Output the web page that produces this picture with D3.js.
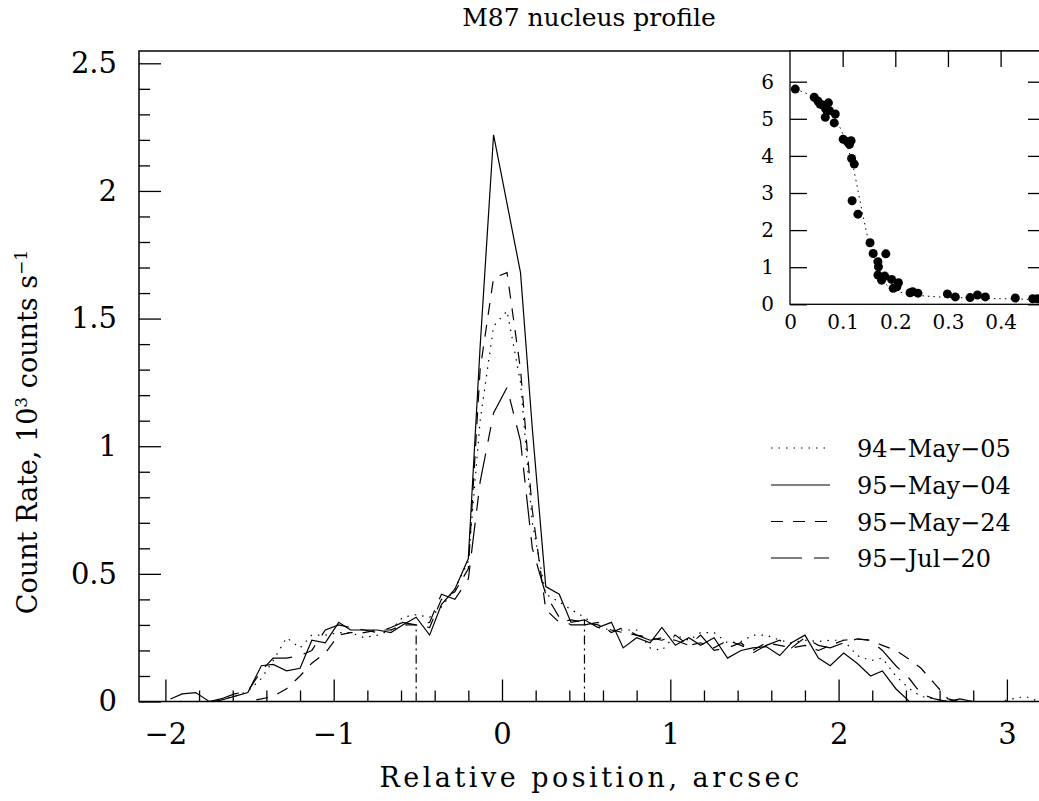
<!DOCTYPE html>
<html>
<head>
<meta charset="utf-8">
<script src="https://cdn.jsdelivr.net/npm/d3@7"></script>
<style>
body { margin: 0; background: #fff; }
svg { display: block; font-family: "DejaVu Serif", serif; }
</style>
</head>
<body>
<svg id="chart"></svg>
<script>
// sample positions along the slit (arcsec)
const positions = [
    -2.05, -1.97, -1.90, -1.82, -1.74, -1.67, -1.59, -1.51, -1.43, -1.36,
    -1.28, -1.20, -1.13, -1.05, -0.97, -0.90, -0.82, -0.74, -0.66, -0.59,
    -0.51, -0.43, -0.36, -0.28, -0.20, -0.13, -0.05, 0.03, 0.11, 0.18,
    0.26, 0.34, 0.41, 0.49, 0.57, 0.65, 0.72, 0.80, 0.88, 0.95,
    1.03, 1.11, 1.18, 1.26, 1.34, 1.42, 1.49, 1.57, 1.65, 1.72,
    1.80, 1.88, 1.95, 2.03, 2.11, 2.19, 2.26, 2.34, 2.42, 2.49,
    2.57, 2.65, 2.72, 2.80, 2.88, 2.96, 3.03, 3.11, 3.19
];

// count rates, 10^3 counts/s
const may05_94 = [
    null, null, null, null, null, 0.01, 0.02, 0.04, 0.09, 0.16,
    0.25, 0.21, 0.26, 0.26, 0.27, 0.27, 0.25, 0.26, 0.28, 0.33,
    0.34, 0.33, 0.37, 0.44, 0.55, 1.10, 1.47, 1.53, 1.25, 0.70,
    0.42, 0.39, 0.36, 0.33, 0.29, 0.28, 0.28, 0.28, 0.21, 0.20,
    0.26, 0.24, 0.27, 0.27, 0.23, 0.235, 0.26, 0.26, 0.24, 0.23,
    0.24, 0.235, 0.24, 0.24, 0.18, 0.16, 0.17, 0.10, 0.05, 0.02,
    0.01, 0.0, 0.0, 0.0, 0.0, 0.0, 0.01, 0.02, 0.0
];
const may04_95 = [
    null, 0.01, 0.03, 0.035, 0.0, 0.005, 0.02, 0.035, 0.14, 0.145,
    0.12, 0.13, 0.24, 0.23, 0.31, 0.28, 0.28, 0.28, 0.27, 0.30,
    0.33, 0.26, 0.38, 0.44, 0.56, 1.39, 2.22, 1.95, 1.68, 1.07,
    0.45, 0.42, 0.31, 0.32, 0.29, 0.31, 0.21, 0.25, 0.23, 0.29,
    0.22, 0.25, 0.22, 0.25, 0.17, 0.20, 0.21, 0.215, 0.18, 0.23,
    0.26, 0.17, 0.14, 0.19, 0.15, 0.10, 0.12, 0.05, 0.0, 0.0,
    0.0, 0.0, 0.01, 0.0, null, null, null, null, null
];
const may24_95 = [
    null, null, null, null, null, null, 0.0, 0.0, 0.01, 0.02,
    0.05, 0.10, 0.15, 0.19, 0.26, 0.27, 0.27, 0.28, 0.28, 0.30,
    0.30, 0.29, 0.40, 0.43, 0.52, 1.30, 1.66, 1.68, 1.30, 0.75,
    0.36, 0.31, 0.32, 0.31, 0.30, 0.28, 0.27, 0.26, 0.25, 0.24,
    0.26, 0.22, 0.23, 0.21, 0.24, 0.22, 0.20, 0.23, 0.22, 0.21,
    0.22, 0.20, 0.22, 0.24, 0.245, 0.24, 0.22, 0.20, 0.165, 0.13,
    0.07, 0.01, 0.0, 0.0, 0.0, null, null, null, null
];
const jul20_95 = [
    null, null, null, null, 0.0, 0.01, 0.03, 0.04, 0.12, 0.17,
    0.17, 0.18, 0.20, 0.28, 0.30, 0.29, 0.28, 0.27, 0.29, 0.31,
    0.30, 0.31, 0.42, 0.40, 0.48, 0.86, 1.13, 1.23, 1.02, 0.60,
    0.42, 0.33, 0.30, 0.30, 0.31, 0.27, 0.29, 0.26, 0.24, 0.25,
    0.24, 0.22, 0.26, 0.20, 0.21, 0.23, 0.19, 0.22, 0.24, 0.21,
    0.25, 0.22, 0.21, 0.23, 0.245, 0.24, 0.20, 0.14, 0.09, 0.03,
    0.01, 0.0, 0.0, null, null, null, null, null, null
];

const seriesLabels = ['94\u2212May\u221205', '95\u2212May\u221204', '95\u2212May\u221224', '95\u2212Jul\u221220'];

// aperture edges
const markerX = [-0.51, 0.49];
const markerTop = [0.30, 0.32];

const xTicks = [-2, -1, 0, 1, 2, 3];
const yTicks = [0, 0.5, 1, 1.5, 2, 2.5];

// inset: radial profile
const insetR = [
    0.010, 0.046, 0.053, 0.057, 0.062, 0.073, 0.068, 0.067, 0.075, 0.086,
    0.084, 0.101, 0.109, 0.116, 0.113, 0.117, 0.122, 0.118, 0.129, 0.152,
    0.158, 0.182, 0.167, 0.168, 0.167, 0.174, 0.180, 0.193, 0.196, 0.206,
    0.203, 0.228, 0.233, 0.243, 0.299, 0.314, 0.342, 0.356, 0.371, 0.428,
    0.461, 0.470
];
const insetV = [
    5.80, 5.58, 5.48, 5.40, 5.37, 5.43, 5.26, 5.04, 5.22, 5.13,
    4.89, 4.45, 4.38, 4.41, 4.31, 3.93, 3.78, 2.79, 2.43, 1.66,
    1.37, 1.36, 1.15, 1.01, 0.79, 0.65, 0.76, 0.67, 0.43, 0.58,
    0.47, 0.31, 0.34, 0.30, 0.28, 0.20, 0.18, 0.25, 0.20, 0.17,
    0.15, 0.15
];
const modelR = [0.01, 0.02, 0.04, 0.06, 0.08, 0.09, 0.10, 0.11, 0.12, 0.13, 0.14, 0.15, 0.16, 0.17, 0.18, 0.20, 0.23, 0.27, 0.32, 0.40, 0.48];
const modelV = [5.80, 5.75, 5.62, 5.42, 5.12, 4.90, 4.60, 4.20, 3.70, 3.00, 2.30, 1.65, 1.15, 0.80, 0.58, 0.38, 0.27, 0.21, 0.18, 0.15, 0.13];

const insetXTicks = [0, 0.1, 0.2, 0.3, 0.4];
const insetYTicks = [0, 1, 2, 3, 4, 5, 6];

const width = 1039, height = 801;
const frame = {left: 139, top: 51, bottom: 701.5, right: 1050};

const svg = d3.select('#chart')
    .attr('width', width)
    .attr('height', height);

const xscale = d3.scaleLinear().domain([-2, 3]).range([165.4, 1006.9]);
const yscale = d3.scaleLinear().domain([0, 2.5]).range([frame.bottom, 63.3]);

// frame
svg.append('path')
    .attr('d', `M${frame.right},${frame.top}H${frame.left}V${frame.bottom}H${frame.right}`)
    .attr('fill', 'none')
    .attr('stroke', 'black')
    .attr('stroke-width', 1.5);

// x axis, ticks pointing inwards
const xminor = d3.range(-2, 3.21, 0.2).filter(v => Math.abs(v - Math.round(v)) > 0.01);
svg.append('g')
    .attr('transform', `translate(0, ${frame.bottom})`)
    .call(d3.axisBottom(xscale).tickValues(xminor).tickSize(-11).tickFormat(''))
    .call(g => g.select('.domain').remove());
const xaxis_group = svg.append('g')
    .attr('transform', `translate(0, ${frame.bottom})`)
    .call(d3.axisBottom(xscale).tickValues(xTicks).tickSize(-22).tickPadding(22).tickFormat(d3.format('d')))
    .call(g => g.select('.domain').remove());
xaxis_group.attr('font-family', null).attr('font-size', null);
xaxis_group.selectAll('text').style('font-size', '29px');

// y axis
const yminor = d3.range(0, 2.51, 0.1).filter(v => Math.abs(v * 2 - Math.round(v * 2)) > 0.01);
svg.append('g')
    .attr('transform', `translate(${frame.left}, 0)`)
    .call(d3.axisLeft(yscale).tickValues(yminor).tickSize(-11).tickFormat(''))
    .call(g => g.select('.domain').remove());
const yaxis_group = svg.append('g')
    .attr('transform', `translate(${frame.left}, 0)`)
    .call(d3.axisLeft(yscale).tickValues(yTicks).tickSize(-22).tickPadding(22).tickFormat(d => d))
    .call(g => g.select('.domain').remove());
yaxis_group.attr('font-family', null).attr('font-size', null);
yaxis_group.selectAll('text').style('font-size', '29px');
svg.selectAll('.tick line').attr('stroke-width', 1.3);

// profiles
const styles = [
    {values: may05_94, dash: '1.5,6'},
    {values: may04_95, dash: null},
    {values: may24_95, dash: '12,10'},
    {values: jul20_95, dash: '31,12,15,12'}
];

const line = d3.line()
    .defined(d => d.y !== null)
    .x(d => xscale(d.x))
    .y(d => yscale(d.y));

styles.forEach(s => {
    const pts = positions.map((p, i) => ({x: p, y: s.values[i]}));
    svg.append('path')
        .attr('d', line(pts))
        .attr('fill', 'none')
        .attr('stroke', 'black')
        .attr('stroke-width', 1.2)
        .attr('stroke-dasharray', s.dash);
});

// aperture markers
svg.selectAll('.marker')
    .data(markerX)
    .enter()
    .append('line')
    .attr('x1', d => xscale(d))
    .attr('x2', d => xscale(d))
    .attr('y1', yscale(0))
    .attr('y2', (d, i) => yscale(markerTop[i]))
    .attr('stroke', 'black')
    .attr('stroke-width', 1.2)
    .attr('stroke-dasharray', '9,4,2,4');

// legend
const legend_y = [448, 485, 521.5, 558];
styles.forEach((s, i) => {
    svg.append('line')
        .attr('x1', 771).attr('x2', 830)
        .attr('y1', legend_y[i]).attr('y2', legend_y[i])
        .attr('stroke', 'black')
        .attr('stroke-width', 1.2)
        .attr('stroke-dasharray', s.dash);
    svg.append('text')
        .attr('x', 857)
        .attr('y', legend_y[i] + 9)
        .style('font-size', '24px')
        .text(seriesLabels[i]);
});

// titles
svg.append('text')
    .attr('x', 589)
    .attr('y', 26)
    .attr('text-anchor', 'middle')
    .style('font-size', '25px')
    .text('M87 nucleus profile');

svg.append('text')
    .attr('x', 591)
    .attr('y', 787)
    .attr('text-anchor', 'middle')
    .style('font-size', '27px')
    .style('letter-spacing', '3.5px')
    .text('Relative position, arcsec');

const ylabel = svg.append('text')
    .attr('transform', 'translate(37, 432) rotate(-90)')
    .attr('text-anchor', 'middle')
    .style('font-size', '27px');
ylabel.append('tspan').text('Count Rate, 10');
ylabel.append('tspan').attr('dy', -10).style('font-size', '17px').text('3');
ylabel.append('tspan').attr('dy', 10).text(' counts s');
ylabel.append('tspan').attr('dy', -10).style('font-size', '17px').text('\u22121');

// inset
const ix = d3.scaleLinear().domain([0, 0.4]).range([790, 1000.6]);
const iy = d3.scaleLinear().domain([0, 6]).range([304.3, 81.7]);
const inset_right = 1045;

svg.append('defs').append('clipPath').attr('id', 'inset-clip')
    .append('rect')
    .attr('x', 790).attr('y', frame.top)
    .attr('width', inset_right - 790).attr('height', 304.3 - frame.top);

svg.append('rect')
    .attr('x', 790).attr('y', frame.top)
    .attr('width', inset_right - 790).attr('height', 304.3 - frame.top)
    .attr('fill', 'white')
    .attr('stroke', 'black')
    .attr('stroke-width', 1.3);

const iyaxis = svg.append('g')
    .attr('transform', 'translate(790, 0)')
    .call(d3.axisLeft(iy).tickValues(insetYTicks).tickSize(-17).tickPadding(16).tickFormat(d => d))
    .call(g => g.select('.domain').remove());
iyaxis.selectAll('text').attr('x', -16).attr('text-anchor', 'end');
svg.append('g')
    .attr('transform', `translate(${inset_right}, 0)`)
    .call(d3.axisRight(iy).tickValues(insetYTicks).tickSize(-17).tickFormat(''))
    .call(g => g.select('.domain').remove());
svg.append('g')
    .attr('transform', `translate(0, ${frame.top})`)
    .call(d3.axisTop(ix).tickValues(insetXTicks.slice(1)).tickSize(-16).tickFormat(''))
    .call(g => g.select('.domain').remove());
const ixaxis = svg.append('g')
    .attr('transform', 'translate(0, 304.3)')
    .call(d3.axisBottom(ix).tickValues(insetXTicks).tickSize(0).tickPadding(11).tickFormat(d => d))
    .call(g => g.select('.domain').remove());
[iyaxis, ixaxis].forEach(g => {
    g.attr('font-family', null).attr('font-size', null);
    g.selectAll('text').style('font-size', '20px');
});
svg.selectAll('.tick line').attr('stroke-width', 1.3);

const inset = svg.append('g').attr('clip-path', 'url(#inset-clip)');

const model_line = d3.line()
    .x((d, i) => ix(modelR[i]))
    .y(d => iy(d))
    .curve(d3.curveMonotoneX);
inset.append('path')
    .attr('d', model_line(modelV))
    .attr('fill', 'none')
    .attr('stroke', 'black')
    .attr('stroke-width', 1)
    .attr('stroke-dasharray', '1.5,4');

inset.selectAll('circle')
    .data(insetV)
    .enter()
    .append('circle')
    .attr('cx', (d, i) => ix(insetR[i]))
    .attr('cy', d => iy(d))
    .attr('r', 4.5)
    .attr('fill', 'black');
</script>
</body>
</html>
